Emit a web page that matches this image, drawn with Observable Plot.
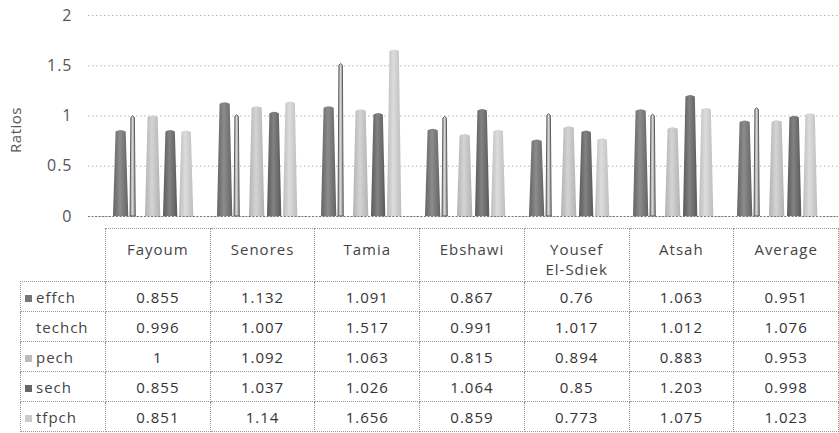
<!DOCTYPE html>
<html><head><meta charset="utf-8">
<script src="https://cdn.jsdelivr.net/npm/d3@7"></script>
<script src="https://cdn.jsdelivr.net/npm/@observablehq/plot@0.6"></script>
<style>
body{margin:0;background:#fff;font-family:"Open Sans",sans-serif;}
#wrap{position:relative;width:839px;height:433px;overflow:hidden;}
#chart{position:absolute;left:0;top:0;}
#ylab{position:absolute;left:-13px;top:120px;width:56px;text-align:center;transform:rotate(-90deg);font-size:15px;color:#555;letter-spacing:0.5px;}
table{position:absolute;left:20px;top:228px;width:819px;border-collapse:collapse;table-layout:fixed;color:#333;font-size:15px;letter-spacing:1px;}
td,th{border:1px dotted #999;text-align:center;padding:0;font-weight:normal;box-sizing:border-box;}
th{height:53px;vertical-align:top;padding-top:10px;line-height:20px;color:#444;}
th.blank{border:none;border-right:1px dotted #999;}
td{height:30px;line-height:28px;}
td.lab{text-align:left;padding-left:4px;color:#444;}
.sw{display:inline-block;width:7px;height:7px;margin-right:4px;vertical-align:1px;}
</style></head>
<body><div id="wrap"><div id="chart"></div><div id="ylab">Ratios</div><div id="tbl"></div></div>
<script>
const sites = ["Fayoum","Senores","Tamia","Ebshawi","Yousef El-Sdiek","Atsah","Average"];
const siteLabels = ["Fayoum","Senores","Tamia","Ebshawi","Yousef<br>El-Sdiek","Atsah","Average"];
const seriesNames = ["effch","techch","pech","sech","tfpch"];
const effch  = [0.855,1.132,1.091,0.867,0.76,1.063,0.951];
const techch = [0.996,1.007,1.517,0.991,1.017,1.012,1.076];
const pech   = [1,1.092,1.063,0.815,0.894,0.883,0.953];
const sech   = [0.855,1.037,1.026,1.064,0.85,1.203,0.998];
const tfpch  = [0.851,1.14,1.656,0.859,0.773,1.075,1.023];
const yTicks = [0,0.5,1,1.5,2];

const values = {effch, techch, pech, sech, tfpch};
const rows = [];
seriesNames.forEach(s => sites.forEach((site,i) => rows.push({site, series:s, value:values[s][i]})));

// style per series: [offset in band, width, fill, stroke]
const style = {
  effch:[5,16,"url(#gDark)","none"],
  techch:[22,6,"url(#gWhite)","#444"],
  pech:[37,16,"url(#gLight)","none"],
  sech:[55,15,"url(#gDark2)","none"],
  tfpch:[71,15,"url(#gLight2)","none"]
};
const swatch = {effch:"#777",techch:"#fff",pech:"#bbb",sech:"#666",tfpch:"#ccc"};

const x0 = 105, x1 = 838;
const bw = (x1-x0)/sites.length;

const marks = [
  Plot.gridY(yTicks,{stroke:"#888",strokeOpacity:0.6,strokeDasharray:"1.5,2.5"}),
  Plot.axisY({ticks:yTicks,tickSize:0,tickPadding:16,fontSize:16,label:null,tickFormat:d=>String(d)})
];
seriesNames.forEach(s => {
  const [off,w,fill,stroke] = style[s];
  marks.push(Plot.barY(rows.filter(r=>r.series===s),{x:"site",y:"value",fill,stroke,strokeWidth:0.8,insetLeft:off,insetRight:bw-off-w}));
});

const chart = Plot.plot({
  width:839,height:228,marginLeft:88,marginRight:1,marginTop:15,marginBottom:12,
  style:{color:"#555",fontFamily:"Open Sans, sans-serif",fontSize:"16px",letterSpacing:"1px",background:"transparent"},
  x:{domain:sites,range:[x0,x1],padding:0,axis:null},
  y:{domain:[0,2]},
  marks
});
document.getElementById("chart").appendChild(chart);

// gradients for a 3D cone look
const svg = d3.select(chart);
const defs = svg.insert("defs",":first-child");
function grad(id, a, b){
  const g = defs.append("linearGradient").attr("id",id).attr("x1","0").attr("x2","1").attr("y1","0").attr("y2","0");
  g.append("stop").attr("offset","0").attr("stop-color",a);
  g.append("stop").attr("offset","0.45").attr("stop-color",b);
  g.append("stop").attr("offset","1").attr("stop-color",a);
}
grad("gDark","#636363","#8c8c8c");
grad("gDark2","#5a5a5a","#828282");
grad("gLight","#b2b2b2","#d4d4d4");
grad("gLight2","#bdbdbd","#dcdcdc");
grad("gWhite","#8a8a8a","#d8d8d8");

// turn bar rectangles into tapered cones (positions from Plot's scales)
svg.selectAll("g[aria-label='bar'] rect").each(function(){
  const r = d3.select(this);
  const x = +r.attr("x"), y = +r.attr("y"), w = +r.attr("width"), h = +r.attr("height");
  const t = w*0.66, cx = x + w/2;
  const p = `M${x},${y+h}L${cx-t/2},${y+1.5}Q${cx},${y-1.5} ${cx+t/2},${y+1.5}L${x+w},${y+h}Z`;
  const path = document.createElementNS("http://www.w3.org/2000/svg","path");
  path.setAttribute("d",p);
  for (const a of ["fill","stroke","stroke-width"]) if (this.getAttribute(a)) path.setAttribute(a,this.getAttribute(a));
  this.replaceWith(path);
});
// baseline
svg.append("line").attr("x1",88).attr("x2",838).attr("y1",216.5).attr("y2",216.5).attr("stroke","#777").attr("stroke-dasharray","2,1.5");

// data table
let html = "<table><colgroup><col style='width:85px'>" + sites.map(()=>"<col>").join("") + "</colgroup>";
html += "<tr><th class='blank'></th>" + siteLabels.map(s=>`<th>${s}</th>`).join("") + "</tr>";
seriesNames.forEach(s => {
  html += `<tr><td class='lab'><span class='sw' style='background:${swatch[s]}'></span>${s}</td>` + values[s].map(v=>`<td>${v}</td>`).join("") + "</tr>";
});
html += "</table>";
document.getElementById("tbl").innerHTML = html;
</script></body></html>
